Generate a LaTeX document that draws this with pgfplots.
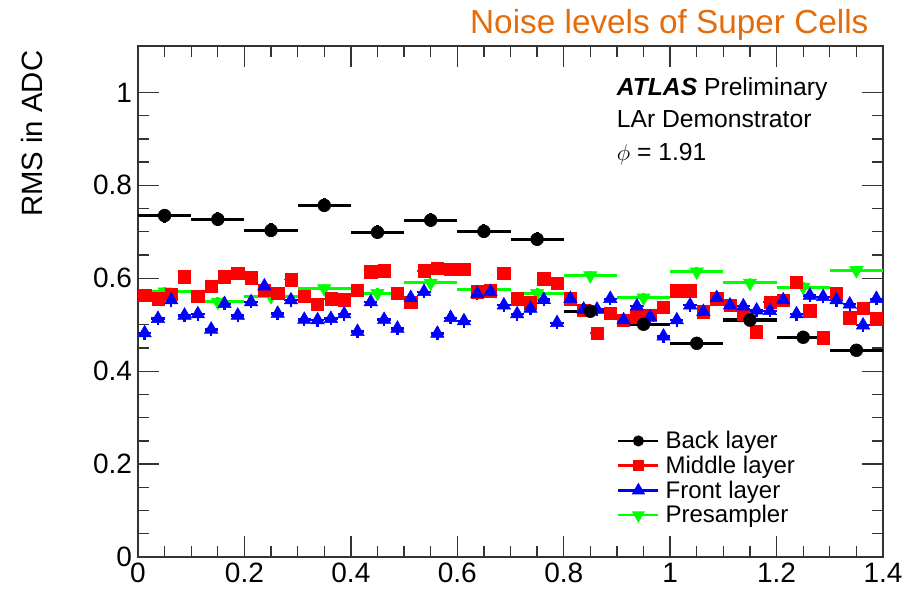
\documentclass[border=0pt]{standalone}
\usepackage{fontspec}
\setmainfont{Liberation Sans}
\usepackage{pgfplots}
\pgfplotsset{compat=1.18}
\usepackage{pgfplotstable}
\definecolor{titleorange}{RGB}{228,108,10}

\pgfplotstableread{
x y ex ey
0.05 0.735 0.05 0.015
0.15 0.727 0.05 0.015
0.25 0.703 0.05 0.015
0.35 0.757 0.05 0.015
0.45 0.699 0.05 0.015
0.55 0.725 0.05 0.015
0.65 0.701 0.05 0.015
0.75 0.684 0.05 0.015
0.85 0.529 0.05 0.012
0.95 0.501 0.05 0.012
1.05 0.460 0.05 0.010
1.15 0.510 0.05 0.010
1.25 0.473 0.05 0.010
1.35 0.445 0.05 0.010
}\backlayer

\pgfplotstableread{
x y ex ey
0.05 0.571 0.05 0.010
0.15 0.549 0.05 0.010
0.25 0.561 0.05 0.010
0.35 0.578 0.05 0.010
0.45 0.568 0.05 0.010
0.55 0.590 0.05 0.010
0.65 0.576 0.05 0.010
0.75 0.568 0.05 0.010
0.85 0.606 0.05 0.010
0.95 0.558 0.05 0.010
1.05 0.614 0.05 0.010
1.15 0.590 0.05 0.010
1.25 0.581 0.05 0.010
1.35 0.617 0.05 0.010
}\presampler

\pgfplotstableread{
x y ex ey
0.0125 0.563 0.0125 0.010
0.0375 0.556 0.0125 0.010
0.0625 0.565 0.0125 0.010
0.0875 0.603 0.0125 0.010
0.1125 0.561 0.0125 0.010
0.1375 0.583 0.0125 0.010
0.1625 0.603 0.0125 0.010
0.1875 0.611 0.0125 0.010
0.2125 0.601 0.0125 0.010
0.2375 0.574 0.0125 0.010
0.2625 0.568 0.0125 0.010
0.2875 0.597 0.0125 0.010
0.3125 0.561 0.0125 0.010
0.3375 0.544 0.0125 0.010
0.3625 0.556 0.0125 0.010
0.3875 0.554 0.0125 0.010
0.4125 0.574 0.0125 0.010
0.4375 0.614 0.0125 0.010
0.4625 0.616 0.0125 0.010
0.4875 0.568 0.0125 0.010
0.5125 0.549 0.0125 0.010
0.5375 0.616 0.0125 0.010
0.5625 0.621 0.0125 0.010
0.5875 0.619 0.0125 0.010
0.6125 0.619 0.0125 0.010
0.6375 0.571 0.0125 0.010
0.6625 0.573 0.0125 0.010
0.6875 0.610 0.0125 0.010
0.7125 0.556 0.0125 0.010
0.7375 0.547 0.0125 0.010
0.7625 0.599 0.0125 0.010
0.7875 0.590 0.0125 0.010
0.8125 0.556 0.0125 0.010
0.8375 0.531 0.0125 0.010
0.8625 0.482 0.0125 0.010
0.8875 0.525 0.0125 0.010
0.9125 0.510 0.0125 0.010
0.9375 0.517 0.0125 0.010
0.9625 0.520 0.0125 0.010
0.9875 0.537 0.0125 0.010
1.0125 0.573 0.0125 0.010
1.0375 0.573 0.0125 0.010
1.0625 0.528 0.0125 0.010
1.0875 0.556 0.0125 0.010
1.1125 0.542 0.0125 0.010
1.1375 0.523 0.0125 0.010
1.1625 0.485 0.0125 0.010
1.1875 0.549 0.0125 0.010
1.2125 0.553 0.0125 0.010
1.2375 0.592 0.0125 0.010
1.2625 0.530 0.0125 0.010
1.2875 0.472 0.0125 0.010
1.3125 0.568 0.0125 0.010
1.3375 0.515 0.0125 0.010
1.3625 0.535 0.0125 0.010
1.3875 0.513 0.0125 0.010
}\middlelayer

\pgfplotstableread{
x y ex ey
0.0125 0.482 0.0125 0.014
0.0375 0.513 0.0125 0.014
0.0625 0.553 0.0125 0.014
0.0875 0.520 0.0125 0.014
0.1125 0.523 0.0125 0.014
0.1375 0.490 0.0125 0.014
0.1625 0.545 0.0125 0.014
0.1875 0.520 0.0125 0.014
0.2125 0.549 0.0125 0.014
0.2375 0.583 0.0125 0.014
0.2625 0.524 0.0125 0.014
0.2875 0.553 0.0125 0.014
0.3125 0.511 0.0125 0.014
0.3375 0.510 0.0125 0.014
0.3625 0.513 0.0125 0.014
0.3875 0.523 0.0125 0.014
0.4125 0.485 0.0125 0.014
0.4375 0.549 0.0125 0.014
0.4625 0.511 0.0125 0.014
0.4875 0.492 0.0125 0.014
0.5125 0.558 0.0125 0.014
0.5375 0.571 0.0125 0.014
0.5625 0.481 0.0125 0.014
0.5875 0.515 0.0125 0.014
0.6125 0.508 0.0125 0.014
0.6375 0.567 0.0125 0.014
0.6625 0.571 0.0125 0.014
0.6875 0.542 0.0125 0.014
0.7125 0.523 0.0125 0.014
0.7375 0.535 0.0125 0.014
0.7625 0.554 0.0125 0.014
0.7875 0.504 0.0125 0.014
0.8125 0.556 0.0125 0.014
0.8375 0.533 0.0125 0.014
0.8625 0.533 0.0125 0.014
0.8875 0.556 0.0125 0.014
0.9125 0.510 0.0125 0.014
0.9375 0.540 0.0125 0.014
0.9625 0.517 0.0125 0.014
0.9875 0.475 0.0125 0.014
1.0125 0.510 0.0125 0.014
1.0375 0.542 0.0125 0.014
1.0625 0.528 0.0125 0.014
1.0875 0.558 0.0125 0.014
1.1125 0.542 0.0125 0.014
1.1375 0.540 0.0125 0.014
1.1625 0.531 0.0125 0.014
1.1875 0.530 0.0125 0.014
1.2125 0.553 0.0125 0.014
1.2375 0.523 0.0125 0.014
1.2625 0.563 0.0125 0.014
1.2875 0.560 0.0125 0.014
1.3125 0.553 0.0125 0.014
1.3375 0.544 0.0125 0.014
1.3625 0.499 0.0125 0.014
1.3875 0.556 0.0125 0.014
}\frontlayer

\begin{document}
\begin{tikzpicture}
\useasboundingbox (-103.5pt,-23.25pt) rectangle (580.5pt,417.75pt);
\begin{axis}[
  at={(0pt,0pt)}, anchor=south west,
  scale only axis,
  width=558.75pt, height=383.25pt,
  xmin=0, xmax=1.4, ymin=0, ymax=1.1,
  xtick={0,0.2,...,1.4}, ytick={0,0.2,...,1.0},
  xticklabels={0,0.2,0.4,0.6,0.8,1,1.2,1.4},
  yticklabels={0,0.2,0.4,0.6,0.8,1},
  minor tick num=3,
  tick align=inside, tick pos=both,
  xticklabel pos=lower, yticklabel pos=left,
  major tick length=16pt, minor tick length=8pt,
  axis line style={black!80, line width=1.3pt},
  every tick/.style={black!80, line width=1.0pt},
  tick label style={font=\fontsize{21}{21}\selectfont},
  xticklabel style={yshift=-1pt},
  yticklabel style={xshift=-1pt},
  ylabel={RMS in ADC},
  ylabel style={font=\fontsize{22}{22}\selectfont, at={(axis description cs:-0.142,1.0)}, anchor=east, rotate=0},
  clip=false,
  error bars/error mark=none,
  legend style={at={(axis cs:0.90,0.277)}, anchor=north west, draw=none, fill=none,
    font=\fontsize{18}{18}\selectfont, row sep=0pt, inner sep=0pt,
    nodes={inner sep=2pt, inner xsep=4.5pt}},
  legend cell align=left,
  legend image code/.code={\draw[mark repeat=2,mark phase=2,#1] plot coordinates {(0pt,0pt) (15pt,0pt) (30pt,0pt)};},
]
\addlegendimage{black, line width=1.8pt, mark=*, mark size=3.2pt}
\addlegendentry{Back layer}
\addlegendimage{red, line width=1.8pt, mark=square*, mark size=3pt}
\addlegendentry{Middle layer}
\addlegendimage{blue, line width=1.8pt, mark=triangle*, mark size=4pt}
\addlegendentry{Front layer}
\addlegendimage{green, line width=1.8pt, mark=triangle*, mark size=4pt, mark options={rotate=180}}
\addlegendentry{Presampler}

\addplot[forget plot, only marks, green, mark=triangle*, mark size=5.8pt, mark options={rotate=180},
  error bars/.cd, x dir=both, x explicit, y dir=both, y explicit,
  error bar style={line width=2.2pt, green}]
  table[x=x, y=y, x error=ex, y error=ey] {\presampler};
\addplot[forget plot, only marks, red, mark=square*, mark size=4.6pt,
  error bars/.cd, x dir=both, x explicit, y dir=both, y explicit,
  error bar style={line width=1.2pt, red}]
  table[x=x, y=y, x error=ex, y error=ey] {\middlelayer};
\addplot[forget plot, only marks, blue, mark=triangle*, mark size=5.8pt,
  error bars/.cd, x dir=both, x explicit, y dir=both, y explicit,
  error bar style={line width=1.8pt, blue}]
  table[x=x, y=y, x error=ex, y error=ey] {\frontlayer};
\addplot[forget plot, only marks, black, mark=*, mark size=4.8pt,
  error bars/.cd, x dir=both, x explicit, y dir=both, y explicit,
  error bar style={line width=2.4pt, black}]
  table[x=x, y=y, x error=ex, y error=ey] {\backlayer};

\node[anchor=base west, font=\fontsize{18.5}{18.5}\selectfont] at (axis cs:0.891,0.994) {\textbf{\textit{ATLAS}} Preliminary};
\node[anchor=base west, font=\fontsize{18.5}{18.5}\selectfont] at (axis cs:0.891,0.925) {LAr Demonstrator};
\node[anchor=base west, font=\fontsize{18.5}{18.5}\selectfont] at (axis cs:0.891,0.854) {$\phi$ = 1.91};
\node[anchor=base east, text=titleorange, font=\fontsize{25}{25}\selectfont] at (axis cs:1.3816,1.127) {Noise levels of Super Cells};
\end{axis}
\end{tikzpicture}
\end{document}
